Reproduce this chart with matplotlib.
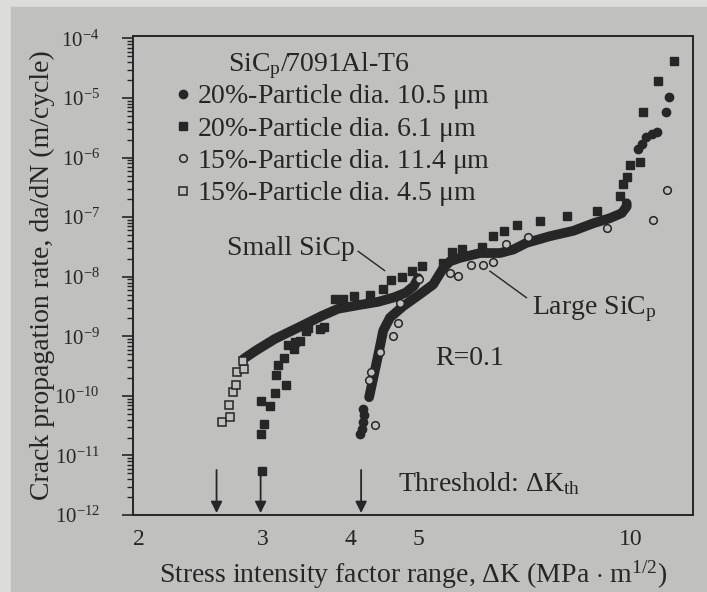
import matplotlib
matplotlib.use("Agg")
import matplotlib.pyplot as plt
from matplotlib.patches import Rectangle

plt.rcParams["font.family"] = ["Liberation Serif", "DejaVu Serif"]
plt.rcParams["mathtext.fontset"] = "custom"
plt.rcParams["mathtext.rm"] = "Liberation Serif"
plt.rcParams["mathtext.it"] = "Liberation Serif:italic"

INK = "#262626"
PAPER = "#c0c0be"

# 20%-Particle dia. 10.5 um (solid circles): loose points + the dense band
c20_x = [4.13, 4.15, 4.16, 4.18, 4.17, 10.25, 10.36, 10.53, 10.71, 10.89, 11.22, 11.33]
c20_y = [2.3e-11, 2.8e-11, 3.6e-11, 4.7e-11, 6.1e-11,
         1.42e-6, 1.72e-6, 2.2e-6, 2.5e-6, 2.7e-6, 5.8e-6, 1.04e-5]
band20_x = [4.25, 4.31, 4.38, 4.45, 4.55, 4.75, 5.02, 5.24, 5.42, 5.54, 5.72,
            6.11, 6.52, 6.81, 7.11, 7.68, 8.29, 8.85, 9.34, 9.71, 9.87, 9.87]
band20_y = [9.5e-11, 2.05e-10, 5.0e-10, 1.24e-9, 2.06e-9, 3.2e-9, 5.1e-9, 7.4e-9,
            1.41e-8, 1.82e-8, 2.07e-8, 2.5e-8, 2.5e-8, 2.86e-8, 3.7e-8, 4.8e-8,
            5.9e-8, 7.9e-8, 9.6e-8, 1.17e-7, 1.51e-7, 1.71e-7]

# 20%-Particle dia. 6.1 um (solid squares)
sq20_x = [2.99, 2.98, 3.01, 2.98, 3.07, 3.12, 3.24, 3.13, 3.15, 3.22, 3.26, 3.32,
          3.33, 3.39, 3.46, 3.48, 3.62, 3.67, 3.80, 3.90, 4.05, 4.26, 4.44, 4.56,
          4.73, 4.89, 5.06, 5.42, 5.57, 5.75, 6.14, 6.38, 6.60, 6.89, 7.43, 8.12,
          8.95, 9.65, 9.76, 9.87, 9.98, 10.31, 10.42, 10.93, 11.52]
sq20_y = [5.4e-12, 2.3e-11, 3.4e-11, 8.1e-11, 6.8e-11, 1.12e-10, 1.54e-10, 2.2e-10,
          3.3e-10, 4.3e-10, 7.2e-10, 6.1e-10, 7.9e-10, 8.5e-10, 1.24e-9, 1.4e-9,
          1.35e-9, 1.44e-9, 4.2e-9, 4.2e-9, 4.8e-9, 5.0e-9, 6.2e-9, 8.7e-9, 1.0e-8,
          1.24e-8, 1.5e-8, 1.71e-8, 2.6e-8, 2.9e-8, 3.1e-8, 4.9e-8, 5.9e-8, 7.5e-8,
          8.7e-8, 1.05e-7, 1.25e-7, 2.3e-7, 3.6e-7, 4.7e-7, 7.5e-7, 8.6e-7, 5.8e-6,
          1.9e-5, 4.2e-5]

# 15%-Particle dia. 11.4 um (open circles)
oc15_x = [4.33, 4.25, 4.27, 4.40, 4.60, 4.67, 4.70, 5.00, 5.54, 5.68, 5.94, 6.16,
          6.38, 6.66, 7.15, 9.24, 10.75, 11.26]
oc15_y = [3.3e-11, 1.86e-10, 2.5e-10, 5.4e-10, 1.02e-9, 1.7e-9, 3.6e-9, 9.3e-9,
          1.17e-8, 1.03e-8, 1.6e-8, 1.6e-8, 1.74e-8, 3.5e-8, 4.7e-8, 6.6e-8,
          9.1e-8, 2.9e-7]

# 15%-Particle dia. 4.5 um (open squares): loose points + the dense band
os15_x = [2.63, 2.70, 2.69, 2.72, 2.75, 2.76, 2.82, 2.81]
os15_y = [3.6e-11, 4.4e-11, 6.9e-11, 1.15e-10, 1.55e-10, 2.5e-10, 2.8e-10, 3.8e-10]
band15_x = [2.82, 2.93, 3.12, 3.41, 3.64, 3.84, 4.08, 4.38, 4.61, 4.79, 4.92, 4.99]
band15_y = [4.2e-10, 5.7e-10, 9.0e-10, 1.5e-9, 2.2e-9, 2.9e-9, 3.3e-9, 3.8e-9,
            4.5e-9, 5.4e-9, 7.0e-9, 9.5e-9]

thresholds = [2.58, 2.98, 4.14]
x_ticks = [2, 3, 4, 5, 10]
x_tick_labels = ["2", "3", "4", "5", "10"]
y_ticks = [1e-12, 1e-11, 1e-10, 1e-9, 1e-8, 1e-7, 1e-6, 1e-5, 1e-4]
y_tick_labels = [r"$10^{%d}$" % e for e in range(-12, -3)]


def main():
    fig = plt.figure(figsize=(7.07, 5.92), dpi=100, facecolor="#dcdcda")
    fig.add_artist(Rectangle((11 / 707, 0), 1, 1 - 7 / 592,
                             transform=fig.transFigure, color=PAPER, zorder=-10))
    ax = fig.add_axes([133 / 707, 77 / 592, 560 / 707, 479 / 592])
    ax.set_facecolor(PAPER)

    # dense bands drawn as thick strokes
    ax.plot(band20_x, band20_y, color=INK, lw=7, solid_capstyle="round",
            solid_joinstyle="round", zorder=3)
    ax.plot(band15_x, band15_y, color=INK, lw=7, solid_capstyle="round",
            solid_joinstyle="round", zorder=3)

    ax.plot(c20_x, c20_y, "o", color=INK, ms=6, ls="none", zorder=4,
            label=r"20%-Particle dia. 10.5 $\mathrm{\mu}$m")
    ax.plot(sq20_x, sq20_y, "s", color=INK, ms=6, ls="none", zorder=4,
            label=r"20%-Particle dia. 6.1 $\mathrm{\mu}$m")
    ax.plot(oc15_x, oc15_y, "o", mfc=PAPER, mec=INK, mew=1.1, ms=5.5, ls="none",
            zorder=5, label=r"15%-Particle dia. 11.4 $\mathrm{\mu}$m")
    ax.plot(os15_x, os15_y, "s", mfc=PAPER, mec=INK, mew=1.1, ms=5.5, ls="none",
            zorder=5, label=r"15%-Particle dia. 4.5 $\mathrm{\mu}$m")

    for t in thresholds:
        ax.annotate("", xy=(t, 1.08e-12), xytext=(t, 5.7e-12),
                    arrowprops=dict(arrowstyle="-|>", color=INK, lw=1.3,
                                    mutation_scale=17, shrinkA=0, shrinkB=0))

    ax.set_xscale("log")
    ax.set_yscale("log")
    ax.set_xlim(1.963, 12.26)
    ax.set_ylim(1e-12, 1.1e-4)

    ax.set_xticks(x_ticks)
    ax.set_xticklabels(x_tick_labels)
    ax.xaxis.set_minor_locator(plt.NullLocator())
    ax.tick_params(axis="x", length=0, pad=10, labelsize=17, colors=INK)
    ax.set_yticks(y_ticks)
    ax.set_yticklabels(y_tick_labels)
    ax.tick_params(axis="y", which="major", length=8, width=1.2, direction="out",
                   pad=16, labelsize=15, colors=INK)
    ax.tick_params(axis="y", which="minor", length=4, width=1.0, direction="out",
                   colors=INK)
    for s in ax.spines.values():
        s.set_color(INK)
        s.set_linewidth(1.4)

    ax.set_xlabel(r"Stress intensity factor range, $\Delta$K (MPa $\cdot$ m$^{1/2}$)",
                  fontsize=20, color=INK, labelpad=6)
    ax.set_ylabel("Crack propagation rate, da/dN (m/cycle)", fontsize=20,
                  color=INK)
    ax.yaxis.set_label_coords(-0.139, 0.5)

    ax.text(2.68, 3.5e-5, r"SiC$_\mathrm{p}$/7091Al-T6", fontsize=20, color=INK,
            va="center")
    leg = ax.legend(loc="upper left", bbox_to_anchor=(0.07, 0.903), frameon=False,
                    fontsize=20, handlelength=0.8, handletextpad=0.1,
                    labelspacing=0.12, borderpad=0, borderaxespad=0)
    for txt in leg.get_texts():
        txt.set_color(INK)

    ax.text(2.67, 3.0e-8, "Small SiCp", fontsize=20, color=INK, va="center")
    ax.plot([4.10, 4.47], [2.67e-8, 1.27e-8], color=INK, lw=1.0)
    ax.text(7.24, 2.9e-9, r"Large SiC$_\mathrm{p}$", fontsize=20, color=INK,
            va="center")
    ax.plot([6.31, 7.11], [1.24e-8, 4.45e-9], color=INK, lw=1.0)
    ax.text(5.27, 4.2e-10, "R=0.1", fontsize=20, color=INK, va="center")
    ax.text(4.67, 3.3e-12, r"Threshold: $\Delta$K$_\mathrm{th}$", fontsize=20,
            color=INK, va="center")

    fig.savefig("out.png", dpi=100, facecolor=fig.get_facecolor())


if __name__ == "__main__":
    main()
